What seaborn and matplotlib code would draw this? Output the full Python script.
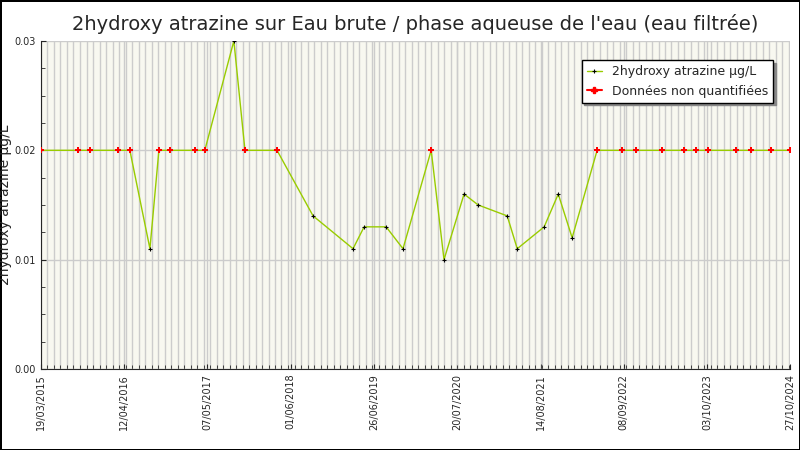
import pandas as pd
import numpy as np
import matplotlib
matplotlib.use('Agg')
import matplotlib.pyplot as plt
import matplotlib.dates as mdates
import seaborn as sns
from matplotlib.ticker import MultipleLocator, FormatStrFormatter

# measurement dates and values (µg/L)
dates = ['2015-03-19', '2015-09-08', '2015-11-04', '2016-03-14', '2016-05-09', '2016-08-11',
         '2016-09-22', '2016-11-12', '2017-03-10', '2017-04-25', '2017-09-08', '2017-10-30',
         '2018-03-29', '2018-09-14', '2019-03-20', '2019-05-11', '2019-08-22', '2019-11-09',
         '2020-03-20', '2020-05-19', '2020-08-21', '2020-10-26', '2021-03-11', '2021-04-27',
         '2021-08-31', '2021-11-05', '2022-01-09', '2022-05-06', '2022-09-01', '2022-11-05',
         '2023-03-07', '2023-06-18', '2023-08-13', '2023-10-09', '2024-02-17', '2024-04-27',
         '2024-07-30', '2024-10-27']
values = [0.02, 0.02, 0.02, 0.02, 0.02, 0.011,
          0.02, 0.02, 0.02, 0.02, 0.03, 0.02,
          0.02, 0.014, 0.011, 0.013, 0.013, 0.011,
          0.02, 0.010, 0.016, 0.015, 0.014, 0.011,
          0.013, 0.016, 0.012, 0.02, 0.02, 0.02,
          0.02, 0.02, 0.02, 0.02, 0.02, 0.02,
          0.02, 0.02]
non_quantified = [1, 1, 1, 1, 1, 0,
                  1, 1, 1, 1, 0, 1,
                  1, 0, 0, 0, 0, 0,
                  1, 0, 0, 0, 0, 0,
                  0, 0, 0, 1, 1, 1,
                  1, 1, 1, 1, 1, 1,
                  1, 1]
tick_labels = ['19/03/2015', '12/04/2016', '07/05/2017', '01/06/2018', '26/06/2019',
               '20/07/2020', '14/08/2021', '08/09/2022', '03/10/2023', '27/10/2024']

df = pd.DataFrame({'date': pd.to_datetime(dates), 'value': values, 'nq': non_quantified})
nq = df[df['nq'] == 1]

sns.set_style('white')
plt.rcParams['font.family'] = ['DejaVu Sans']
fig, ax = plt.subplots(figsize=(8, 4.5), dpi=100)
fig.subplots_adjust(left=0.051, right=0.988, top=0.909, bottom=0.18)
ax.set_facecolor('#f8f8f0')

sns.lineplot(data=df, x='date', y='value', ax=ax, color='#99cc00', linewidth=1,
             marker='+', markersize=3, markeredgecolor='black', markeredgewidth=0.8,
             label='2hydroxy atrazine µg/L')
sns.scatterplot(data=nq, x='date', y='value', ax=ax, color='red', marker='P', s=14,
                linewidth=0, zorder=5)
ax.plot([], [], color='red', marker='P', markersize=5, label='Données non quantifiées')

start, end = pd.Timestamp('2015-03-19'), pd.Timestamp('2024-10-27')
ax.set_xlim(start, end)
ax.set_ylim(0, 0.03)
ax.set_xticks(pd.to_datetime(tick_labels, format='%d/%m/%Y'))
ax.set_xticklabels(tick_labels, rotation=90, fontsize=7)
ax.xaxis.set_minor_locator(mdates.MonthLocator(bymonthday=19))
ax.yaxis.set_major_locator(MultipleLocator(0.01))
ax.yaxis.set_minor_locator(MultipleLocator(0.0025))
ax.yaxis.set_major_formatter(FormatStrFormatter('%.2f'))
ax.tick_params(axis='y', labelsize=7)
ax.tick_params(which='both', direction='in', left=True, bottom=True)
ax.tick_params(which='minor', length=3)
ax.grid(True, which='major', axis='y', color='#cccccc', linewidth=1)
ax.grid(True, which='minor', axis='x', color='#cccccc', linewidth=1)
ax.grid(True, which='major', axis='x', color='#cccccc', linewidth=1)
ax.set_axisbelow(True)
for s in ['top', 'right']:
    ax.spines[s].set_visible(False)
ax.set_xlabel('')
ax.set_ylabel('2hydroxy atrazine µg/L', fontsize=10, labelpad=4)
ax.yaxis.set_label_coords(-0.038, 0.5)
ax.set_title("2hydroxy atrazine sur Eau brute / phase aqueuse de l'eau (eau filtrée)",
             fontsize=14, pad=8)

leg = ax.legend(loc='upper right', bbox_to_anchor=(0.985, 0.96), fontsize=9, frameon=True,
                fancybox=False, shadow={'color': '#888888', 'alpha': 1}, handlelength=1.2)
leg.get_frame().set_edgecolor('black')
leg.get_frame().set_facecolor('white')
leg.get_frame().set_alpha(1)

fig.patch.set_edgecolor('black')
fig.patch.set_linewidth(1)
fig.savefig('out.png', dpi=100)
